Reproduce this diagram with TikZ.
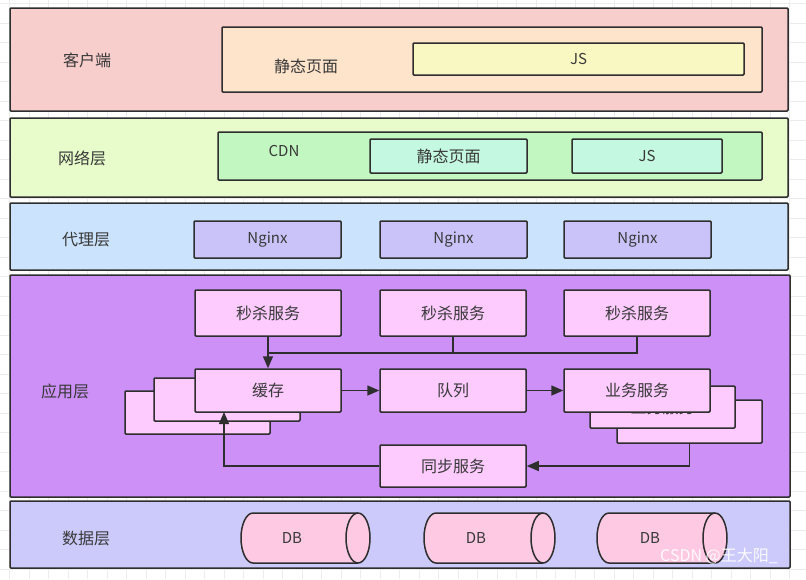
\documentclass[tikz,border=0pt]{standalone}
\usepackage{fontspec}
\setmainfont{Noto Sans CJK SC}
\usetikzlibrary{arrows.meta}
\definecolor{ln}{HTML}{2E2E2E}
\definecolor{txt}{HTML}{383838}
\definecolor{gridc}{HTML}{ECECEC}
\definecolor{cL1}{HTML}{F8CECC}
\definecolor{cL1in}{HTML}{FFE4CC}
\definecolor{cJS1}{HTML}{F9F8C2}
\definecolor{cL2}{HTML}{E8FCCB}
\definecolor{cCDN}{HTML}{C2F7C2}
\definecolor{cL2in}{HTML}{C4F8E0}
\definecolor{cL3}{HTML}{CCE3FD}
\definecolor{cNg}{HTML}{CAC3F9}
\definecolor{cL4}{HTML}{CC90F6}
\definecolor{cBox}{HTML}{FDCBFD}
\definecolor{cL5}{HTML}{CCCAFB}
\definecolor{cDB}{HTML}{FDC9E3}
\tikzset{
  x=1pt,y=-1pt,
  box/.style={draw=ln,line width=1.5pt,rectangle,rounded corners=1pt,inner sep=0pt,text=txt,font=\fontsize{16}{18}\selectfont},
  lbl/.style={text=txt,inner sep=0pt,font=\fontsize{16}{18}\selectfont},
  latin/.style={font=\fontsize{15}{17}\selectfont},
  conn/.style={draw=ln,line width=1.5pt},
  arr/.style={conn,-{Triangle[length=12pt,width=10pt]}},
  dbs/.style={draw=ln,line width=1.5pt,fill=cDB}
}
\begin{document}
\begin{tikzpicture}
\useasboundingbox (0,0) rectangle (806,579);
\fill[white] (0,0) rectangle (806,579);
\foreach \k in {0,...,41} \draw[gridc,line width=0.6pt] (9.5+19.5*\k,0) -- (9.5+19.5*\k,579);
\foreach \k in {0,...,29} \draw[gridc,line width=0.6pt] (0,3.5+19.5*\k) -- (806,3.5+19.5*\k);

% Layer 1
\node[box,fill=cL1,minimum width=778pt,minimum height=103pt] (L1) at (399,59.5) {};
\node[lbl] (t1) at (87,60) {客户端};
\node[box,fill=cL1in,minimum width=540pt,minimum height=65pt] (page) at (492,59.5) {};
\node[lbl] (pagetxt) at (306,66) {静态页面};
\node[box,latin,fill=cJS1,minimum width=331pt,minimum height=32pt] (js1) at (578.5,59) {JS};

% Layer 2
\node[box,fill=cL2,minimum width=778pt,minimum height=79pt] (L2) at (399,157.5) {};
\node[lbl] (t2) at (82,158) {网络层};
\node[box,fill=cCDN,minimum width=544pt,minimum height=48pt] (cdn) at (490,156) {};
\node[lbl,latin] (cdntxt) at (284,151) {CDN};
\node[box,fill=cL2in,minimum width=157pt,minimum height=34pt] (page2) at (448.5,156) {静态页面};
\node[box,latin,fill=cL2in,minimum width=150pt,minimum height=34pt] (js2) at (647,156) {JS};

% Layer 3
\node[box,fill=cL3,minimum width=778pt,minimum height=67pt] (L3) at (399,236.5) {};
\node[lbl] (t3) at (86,240) {代理层};
\foreach \cx/\nm in {267.5/ng1,453.5/ng2,637.5/ng3}
  \node[box,latin,fill=cNg,minimum width=147pt,minimum height=37pt] (\nm) at (\cx,239.5) {Nginx};

% Layer 4
\node[box,fill=cL4,minimum width=780pt,minimum height=222pt] (L4) at (400,386) {};
\node[lbl] (t4) at (65,391) {应用层};
\node[box,fill=cBox,minimum width=146pt,minimum height=46pt] (m1) at (268,313) {秒杀服务};
\node[box,fill=cBox,minimum width=146pt,minimum height=46pt] (m2) at (453,313) {秒杀服务};
\node[box,fill=cBox,minimum width=146pt,minimum height=46pt] (m3) at (637,313) {秒杀服务};
\node[box,fill=cBox,minimum width=145pt,minimum height=43pt] (cache3) at (197.5,412.5) {};
\node[box,fill=cBox,minimum width=146pt,minimum height=43pt] (cache2) at (227,399.5) {};
\node[box,fill=cBox,minimum width=146pt,minimum height=43pt] (cache) at (268,390.5) {缓存};
\node[box,fill=cBox,minimum width=146pt,minimum height=43pt] (queue) at (453,390.5) {队列};
\node[box,fill=cBox,minimum width=145pt,minimum height=43pt] (biz3) at (689.5,421.5) {};
\node[box,fill=cBox,minimum width=145pt,minimum height=42pt] (biz2) at (662.5,407) {业务服务};
\node[box,fill=cBox,minimum width=146pt,minimum height=43pt] (biz) at (637,390.5) {业务服务};
\node[box,fill=cBox,minimum width=146pt,minimum height=42pt] (sync) at (453,466) {同步服务};
\coordinate (join) at (268,353);
\coordinate (cacheIn) at (224,412);
\draw[conn] (m2.south) |- (join);
\draw[conn] (m3.south) |- (join);
\draw[arr] (m1.south) -- (cache.north);
\draw[arr] (cache.east) -- (queue.west);
\draw[arr] (queue.east) -- (biz.west);
\draw[arr] (biz3.south) |- (sync.east);
\draw[arr] (sync.west) -| (cacheIn);

% Layer 5
\node[box,fill=cL5,minimum width=780pt,minimum height=67pt] (L5) at (400,534.5) {};
\node[lbl] (t5) at (86,538) {数据层};
\foreach \xa/\xb/\tx/\nm in {241/370/292/db1,424/555/476/db2,597/727/650/db3}{
  \draw[dbs] (\xa+12,513) -- (\xb-12,513) arc[start angle=90,end angle=-90,x radius=12pt,y radius=25pt]
     -- (\xa+12,563) arc[start angle=270,end angle=90,x radius=12pt,y radius=25pt] -- cycle;
  \draw[conn] (\xb-12,513) arc[start angle=90,end angle=270,x radius=12pt,y radius=25pt];
  \node[lbl,latin] (\nm) at (\tx,538) {DB};
}
\node[text=white,opacity=0.9,inner sep=0pt,font=\fontsize{16}{18}\selectfont] (wm) at (719,556) {CSDN @王大阳\_};
\end{tikzpicture}
\end{document}
